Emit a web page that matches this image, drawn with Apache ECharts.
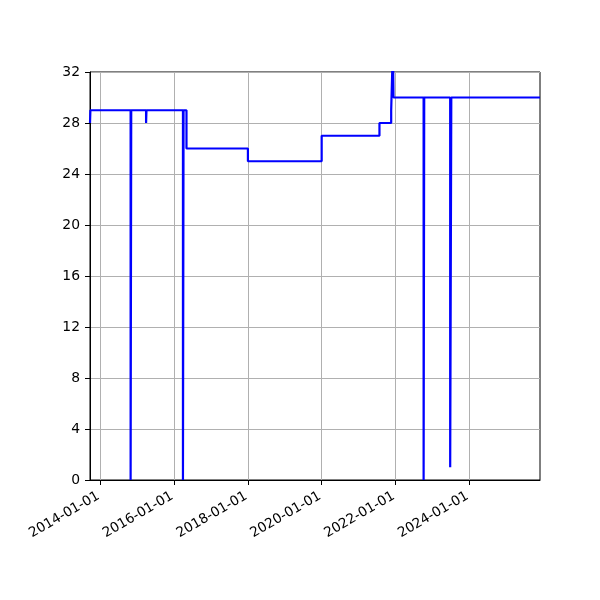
<!DOCTYPE html>
<html>
<head>
<meta charset="utf-8">
<script src="https://cdn.jsdelivr.net/npm/echarts@6/dist/echarts.min.js"></script>
<style>
html,body{margin:0;padding:0;background:#fff;}
#chart{width:600px;height:600px;}
</style>
</head>
<body>
<div id="chart"></div>
<script>
// Data (step changes)
const dates = ['2013-09-21','2013-09-25','2014-10-28','2014-11-03','2015-03-30','2015-04-03',
  '2016-03-29','2016-04-04','2016-05-03','2018-01-01','2020-01-01','2021-07-26','2021-11-19',
  '2021-12-06','2021-12-12','2022-10-06','2022-10-12','2023-06-26','2023-07-07','2025-12-01'];
const values = [28,29,0,29,28,29,0,29,26,25,27,28,29,34,30,0,30,1,30,30];
const xTicks = ['2014-01-01','2016-01-01','2018-01-01','2020-01-01','2022-01-01','2024-01-01'];
const xMin = '2013-09-21';
const xMax = '2025-12-01';
const yMin = 0, yMax = 32, yStep = 4;

const ts = s => Date.parse(s + 'T00:00:00Z');
function fmtDate(v){
  const d = new Date(v);
  const p = n => String(n).padStart(2,'0');
  return d.getUTCFullYear() + '-' + p(d.getUTCMonth()+1) + '-' + p(d.getUTCDate());
}

const chart = echarts.init(document.getElementById('chart'), null, {renderer:'canvas'});
const font = 'DejaVu Sans';
chart.setOption({
  backgroundColor:'#fff',
  animation:false,
  grid:{left:90,right:60,top:72,bottom:120,show:true,borderColor:'#000',borderWidth:1,containLabel:false},
  xAxis:{
    type:'value', min:ts(xMin), max:ts(xMax), scale:true,
    axisLine:{show:true,lineStyle:{color:'#000',width:1}},
    axisTick:{show:true,length:5,inside:false,lineStyle:{color:'#000',width:1},customValues:xTicks.map(ts)},
    axisLabel:{customValues:xTicks.map(ts),rotate:30,margin:14,color:'#000',fontFamily:font,fontSize:13.6,
      formatter:fmtDate,padding:[0,2,0,0],hideOverlap:false},
    splitLine:{show:true,lineStyle:{color:'#b0b0b0',width:1}}
  },
  yAxis:{
    type:'value', min:yMin, max:yMax, interval:yStep,
    axisLine:{show:true,lineStyle:{color:'#000',width:1}},
    axisTick:{show:true,length:5,inside:false,lineStyle:{color:'#000',width:1}},
    axisLabel:{margin:10,color:'#000',fontFamily:font,fontSize:13.9},
    splitLine:{show:true,lineStyle:{color:'#b0b0b0',width:1}}
  },
  series:[{
    type:'line', step:'end', showSymbol:false, symbol:'none', clip:true,
    data: dates.map((d,i)=>[ts(d), values[i]]),
    lineStyle:{color:'#0000ff',width:2.2},
    itemStyle:{color:'#0000ff'}
  }]
});
</script>
</body>
</html>
